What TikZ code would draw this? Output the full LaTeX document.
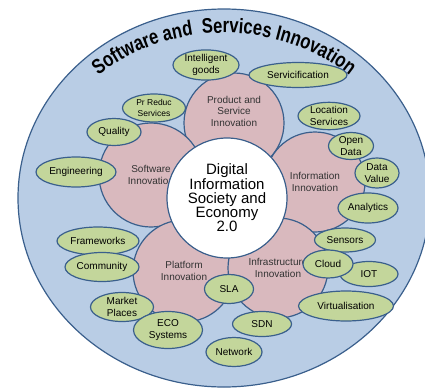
\documentclass[tikz,border=0pt]{standalone}
\usepackage{fontspec}
\setmainfont{Liberation Sans}
\newfontfamily\ringTitleFamily[FakeStretch=0.79]{Liberation Sans}
\usetikzlibrary{shapes.geometric, decorations.text}
\definecolor{ringblue}{RGB}{185,205,229}
\definecolor{edgeblue}{RGB}{58,95,140}
\definecolor{petalpink}{RGB}{217,185,190}
\definecolor{topicgreen}{RGB}{195,214,155}
\newcommand{\ringTitleFont}{\ringTitleFamily\bfseries\fontsize{21}{21}\selectfont}
\tikzset{
  outline/.style={draw=edgeblue, line width=1.2pt, inner sep=0pt},
  petal/.style={circle, outline, fill=petalpink},
  petaltext/.style={align=center, inner sep=0pt, text=black!80, font=\fontsize{10}{11.5}\selectfont},
  topic/.style={ellipse, outline, fill=topicgreen, align=center, font=\fontsize{10}{12}\selectfont},
}

\begin{document}
\begin{tikzpicture}[x=1pt, y=-1pt]
\useasboundingbox (0,0) rectangle (425,388);
\node[ellipse, outline, fill=ringblue, minimum width=412pt, minimum height=378pt] (ring) at (224,198) {};
\path[decorate, decoration={text along path, text align=center,
  text={|\ringTitleFont|Software and {} Services Innovation}}]
  (ring.center) ++(205:188 and 165) arc[start angle=205, end angle=335, x radius=188, y radius=165];

\node[petal, minimum size=100pt, label={[petaltext, yshift=12pt]center:{Product and\\Service\\Innovation}}] (prod) at (234,123) {};
\node[petal, minimum size=104pt, label={[petaltext]center:{Software\\Innovation}}] (soft) at (151,175) {};
\node[petal, minimum size=100pt, label={[petaltext]center:{Information\\Innovation}}] (info) at (315,182) {};
\node[petal, minimum size=102pt, label={[petaltext]center:{Platform\\Innovation}}] (plat) at (184,271) {};
\node[petal, minimum size=100pt, label={[petaltext]center:{Infrastructure\\Innovation}}] (infra) at (278,268) {};

\node[circle, outline, fill=white, minimum size=120pt, align=center, font=\fontsize{15}{14.3}\selectfont] (hub) at (227,198) {Digital\\Information\\Society and\\Economy\\2.0};

\node[topic, minimum width=66pt, minimum height=27pt] (igoods) at (206,65) {Intelligent\\goods};
\node[topic, minimum width=98pt, minimum height=25pt] (servic) at (298,75) {Servicification};
\node[topic, minimum width=63pt, minimum height=28pt, font=\fontsize{8.5}{10.5}\selectfont] (prreduc) at (154,108) {Pr Reduc\\Services};
\node[topic, minimum width=62pt, minimum height=26pt] (locserv) at (329,116) {Location\\Services};
\node[topic, minimum width=54pt, minimum height=27pt] (quality) at (114,132) {Quality};
\node[topic, minimum width=80pt, minimum height=30pt] (engin) at (76,172) {Engineering};
\node[topic, minimum width=45pt, minimum height=27pt] (opendata) at (351,146) {Open\\Data};
\node[topic, minimum width=44pt, minimum height=30pt] (dataval) at (377,173) {Data\\Value};
\node[topic, minimum width=60pt, minimum height=30pt] (analyt) at (368,208) {Analytics};
\node[topic, minimum width=61pt, minimum height=24pt] (sensors) at (345,240) {Sensors};
\node[topic, minimum width=58pt, minimum height=25pt] (iot) at (369,274) {IOT};
\node[topic, minimum width=50pt, minimum height=28pt] (cloud) at (328,264) {Cloud};
\node[topic, minimum width=95pt, minimum height=30pt] (virt) at (346,306) {Virtualisation};
\node[topic, minimum width=59pt, minimum height=25pt] (sdn) at (262,324) {SDN};
\node[topic, minimum width=56pt, minimum height=29pt] (network) at (234,352) {Network};
\node[topic, minimum width=49pt, minimum height=29pt] (sla) at (229,289) {SLA};
\node[topic, minimum width=63pt, minimum height=29pt] (market) at (122,307) {Market\\Places};
\node[topic, minimum width=69pt, minimum height=37pt] (eco) at (168,330) {ECO\\Systems};
\node[topic, minimum width=82pt, minimum height=28pt] (frameworks) at (98,241) {Frameworks};
\node[topic, minimum width=74pt, minimum height=29pt] (community) at (102,267) {Community};
\end{tikzpicture}
\end{document}
